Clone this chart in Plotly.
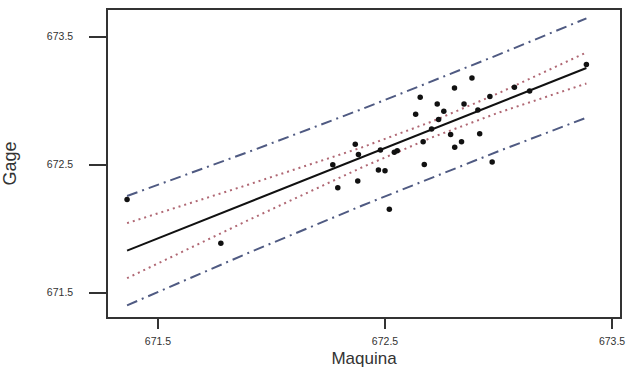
import plotly.graph_objects as go

# Observed points (Maquina, Gage)
maquina = [671.364, 671.777, 672.270, 672.292, 672.369, 672.383, 672.380, 672.471,
           672.500, 672.480, 672.519, 672.541, 672.554, 672.635, 672.655, 672.673,
           672.668, 672.705, 672.730, 672.736, 672.759, 672.789, 672.807, 672.806,
           672.837, 672.848, 672.883, 672.909, 672.917, 672.962, 672.972, 673.070,
           673.137, 673.387]
gage = [672.227, 671.887, 672.500, 672.320, 672.659, 672.580, 672.372, 672.459,
        672.453, 672.615, 672.151, 672.596, 672.609, 672.893, 673.027, 672.502,
        672.678, 672.779, 672.973, 672.852, 672.918, 672.736, 672.635, 673.098,
        672.678, 672.973, 673.176, 672.927, 672.742, 673.033, 672.520, 673.104,
        673.076, 673.283]

# Fitted line and bands, read at a few x positions
band_x = [671.364, 671.900, 672.400, 672.707, 673.000, 673.387]
fit_y = [671.828, 672.206, 672.558, 672.775, 672.982, 673.255]
conf_upper = [672.043, 672.345, 672.636, 672.837, 673.058, 673.376]
conf_lower = [671.613, 672.068, 672.480, 672.713, 672.906, 673.134]
pred_upper = [672.255, 672.600, 672.935, 673.149, 673.359, 673.643]
pred_lower = [671.401, 671.812, 672.181, 672.401, 672.605, 672.867]

tick_vals = [671.5, 672.5, 673.5]
tick_text = ["671.5", "672.5", "673.5"]

conf_color = "#b06874"
pred_color = "#4f5a82"

fig = go.Figure()
for yv in (pred_upper, pred_lower):
    fig.add_trace(go.Scatter(x=band_x, y=yv, mode="lines",
                             line=dict(color=pred_color, width=2, dash="11px,5px,2px,5px"),
                             hoverinfo="skip"))
for yv in (conf_upper, conf_lower):
    fig.add_trace(go.Scatter(x=band_x, y=yv, mode="lines",
                             line=dict(color=conf_color, width=2, dash="2px,4px"),
                             hoverinfo="skip"))
fig.add_trace(go.Scatter(x=band_x, y=fit_y, mode="lines",
                         line=dict(color="#111111", width=2)))
fig.add_trace(go.Scatter(x=maquina, y=gage, mode="markers",
                         marker=dict(color="#111111", size=5.5)))

axis_common = dict(
    showgrid=False, zeroline=False, showline=True, mirror=True,
    linecolor="#333333", linewidth=1.5,
    ticks="outside", tickcolor="#333333", tickwidth=1.5,
    tickvals=tick_vals, ticktext=tick_text,
    tickfont=dict(family="Liberation Sans", size=10.5, color="#333333"),
    ticklabeloverflow="allow",
    automargin=False,
)

fig.update_layout(
    width=627, height=372,
    margin=dict(l=108, r=7, t=10, b=55),
    paper_bgcolor="white", plot_bgcolor="white",
    showlegend=False,
    xaxis=dict(range=[671.28, 673.535], ticklen=10, ticklabelstandoff=4,
               title=dict(text="Maquina", standoff=6,
                          font=dict(family="Liberation Sans", size=17, color="#333333")),
               **axis_common),
    yaxis=dict(range=[671.31, 673.708], ticklen=17, ticklabelstandoff=14,
               title=dict(text="Gage", standoff=44,
                          font=dict(family="Liberation Sans", size=18, color="#333333")),
               **axis_common),
)

fig.write_html("out.html", config={"displayModeBar": False},
               post_script="document.body.style.margin='0';document.body.style.overflow='hidden';")
